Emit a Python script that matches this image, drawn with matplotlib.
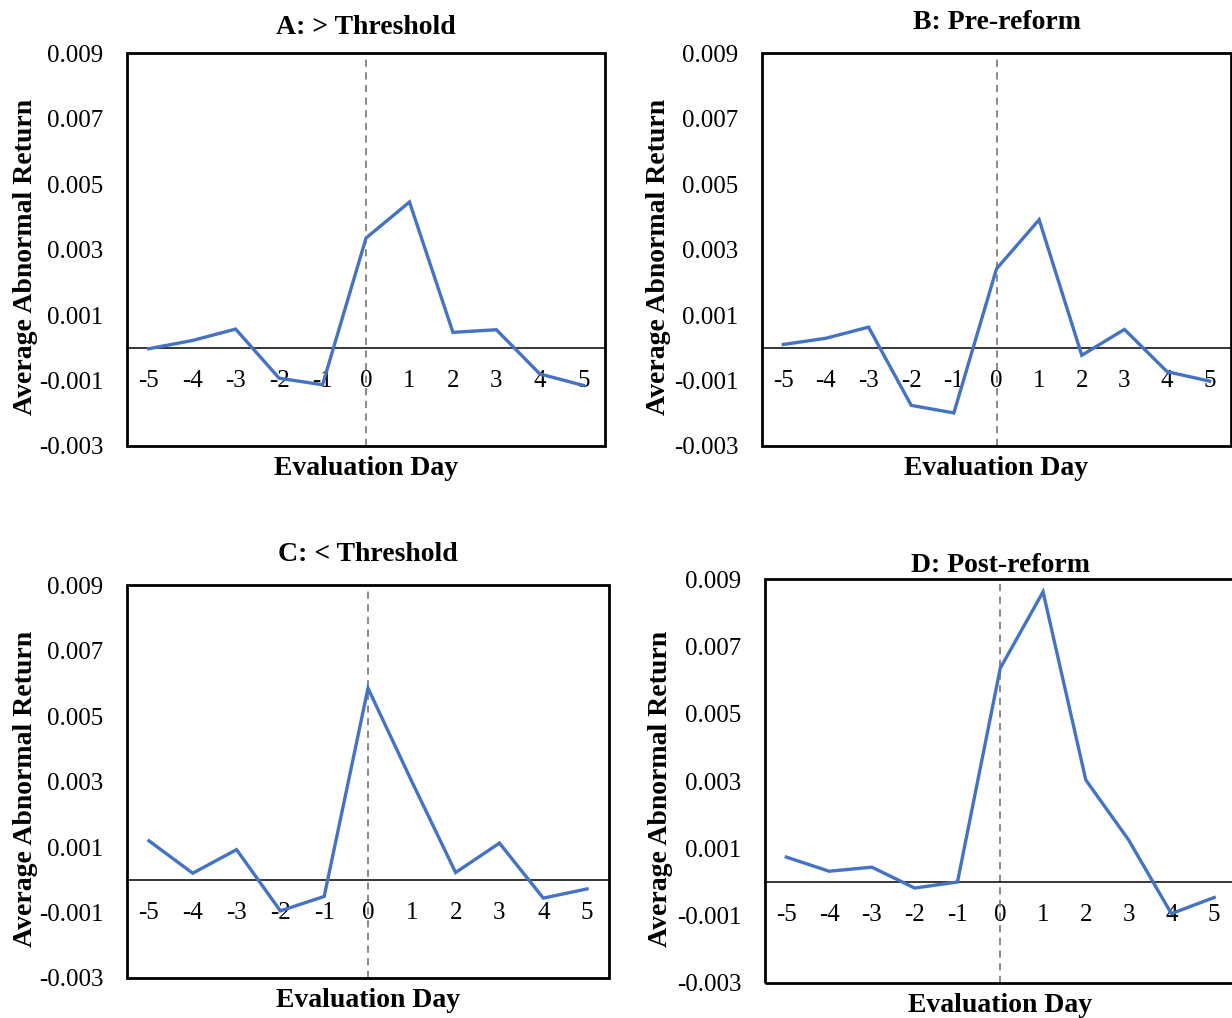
import matplotlib
matplotlib.use("Agg")
import matplotlib.pyplot as plt
from matplotlib.patches import Rectangle

plt.rcParams['font.family'] = ['Liberation Serif', 'DejaVu Serif']

days = [-5, -4, -3, -2, -1, 0, 1, 2, 3, 4, 5]
day_labels = ['-5', '-4', '-3', '-2', '-1', '0', '1', '2', '3', '4', '5']

aar_above = [-0.00003, 0.00022, 0.00057, -0.00093, -0.00113, 0.00335, 0.00445, 0.00047, 0.00055, -0.00080, -0.00115]
aar_pre = [0.00010, 0.00029, 0.00063, -0.00176, -0.00199, 0.00241, 0.00391, -0.00023, 0.00056, -0.00073, -0.00102]
aar_below = [0.00119, 0.00020, 0.00092, -0.00095, -0.00051, 0.00585, 0.00300, 0.00022, 0.00112, -0.00056, -0.00028]
aar_post = [0.00074, 0.00032, 0.00044, -0.00018, 0.00000, 0.00635, 0.00862, 0.00303, 0.00125, -0.00094, -0.00046]

y_ticks = [-0.003, -0.001, 0.001, 0.003, 0.005, 0.007, 0.009]
y_tick_labels = ['-0.003', '-0.001', '0.001', '0.003', '0.005', '0.007', '0.009']

titles = ['A: > Threshold', 'B: Pre-reform', 'C: < Threshold', 'D: Post-reform']

fig = plt.figure(figsize=(12.32, 10.18), dpi=100)

# left, bottom, width, height in figure fractions, title pad, ylabel x
panels = [
    ([0.1031, 0.5619, 0.3880, 0.3860], aar_above, 14, -0.187),
    ([0.6185, 0.5619, 0.3807, 0.3860], aar_pre, 17, -0.195),
    ([0.1031, 0.0393, 0.3912, 0.3860], aar_below, 17, -0.185),
    ([0.6209, 0.0344, 0.3820, 0.3968], aar_post, 5, -0.196),
]

for i, (rect, vals, tpad, ylx) in enumerate(panels):
    ax = fig.add_axes(rect)
    ax.plot(days, vals, color='#4472C4', lw=2.4, zorder=3, solid_joinstyle='miter')
    ax.axvline(0, color='#808080', lw=1.3, ls=(0, (4, 3)), zorder=2)
    ax.set_xlim(-5.5, 5.5)
    ax.set_ylim(-0.003, 0.009)
    ax.set_yticks(y_ticks)
    ax.set_yticklabels(y_tick_labels)
    ax.set_xticks(days)
    ax.set_xticklabels(day_labels)

    # the bottom spine becomes the zero line, the box is drawn separately
    for s in ['top', 'right', 'left']:
        ax.spines[s].set_visible(False)
    ax.spines['bottom'].set_position(('data', 0))
    ax.spines['bottom'].set_linewidth(1.1)
    ax.spines['bottom'].set_zorder(2.5)
    ax.add_patch(Rectangle((0, 0), 1, 1, transform=ax.transAxes, fill=False,
                           lw=2.0, edgecolor='black', zorder=4, clip_on=False))

    ax.tick_params(axis='x', length=0, pad=16, labelsize=18)
    ax.tick_params(axis='y', length=0, pad=17, labelsize=18)

    ax.set_title(titles[i], fontsize=20, fontweight='bold', pad=tpad)
    ax.set_xlabel('Evaluation Day', fontsize=20, fontweight='bold')
    ax.set_ylabel('Average Abnormal Return', fontsize=20, fontweight='bold')
    ax.xaxis.set_label_coords(0.5, -0.025)
    ax.yaxis.set_label_coords(ylx, 0.48)

fig.savefig('out.png', dpi=100)
